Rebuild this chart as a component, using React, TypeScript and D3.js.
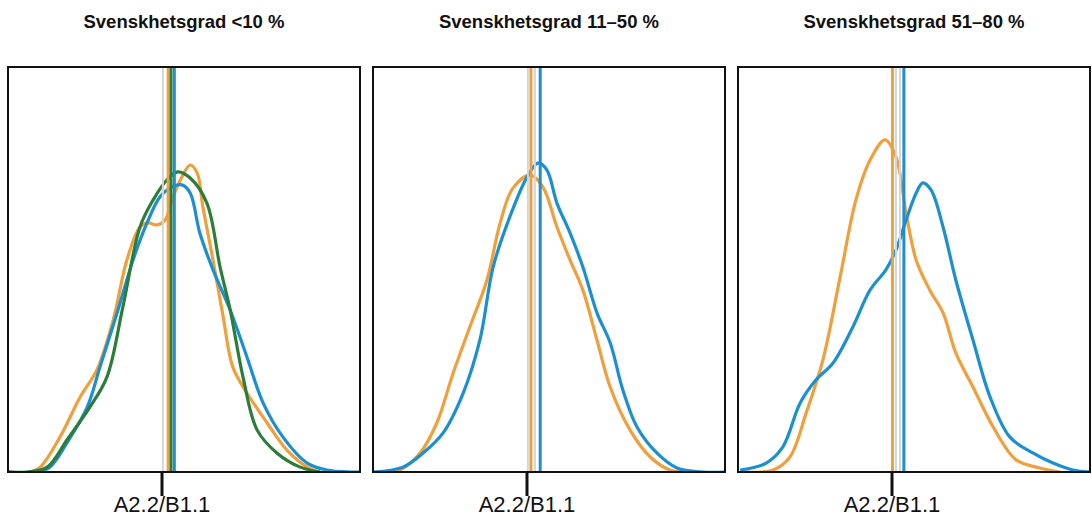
import React from "react";
import * as d3 from "d3";

type Pt = [number, number];

const titles = ["Svenskhetsgrad <10 %", "Svenskhetsgrad 11–50 %", "Svenskhetsgrad 51–80 %"];
const tickLabel = "A2.2/B1.1";
const tickValue = 0;

// Panel 1 densities [score, density]
const p1Orange: Pt[] = [[-3.5,0],[-3.0,0],[-2.77,0.012],[-2.32,0.086],[-1.86,0.185],[-1.48,0.252],[-1.11,0.375],[-0.8,0.523],[-0.5,0.605],[-0.32,0.615],[-0.11,0.61],[0.07,0.622],[0.25,0.679],[0.45,0.728],[0.64,0.758],[0.8,0.738],[0.93,0.654],[1.16,0.523],[1.39,0.383],[1.61,0.259],[1.93,0.195],[2.39,0.121],[2.84,0.054],[3.3,0.012],[3.59,0]];
const p1Blue: Pt[] = [[-3.5,0],[-2.84,0],[-2.55,0.012],[-2.16,0.072],[-1.7,0.16],[-1.41,0.259],[-1.02,0.393],[-0.66,0.523],[-0.34,0.615],[-0.05,0.679],[0.18,0.701],[0.45,0.709],[0.64,0.689],[0.86,0.59],[1.16,0.499],[1.55,0.4],[1.93,0.284],[2.3,0.17],[2.75,0.086],[3.3,0.022],[3.75,0.005],[4.27,0],[4.5,0]];
const p1Green: Pt[] = [[-3.5,0],[-3.07,0],[-2.61,0.012],[-2.16,0.079],[-1.64,0.16],[-1.25,0.235],[-0.89,0.407],[-0.5,0.605],[-0.2,0.672],[0.11,0.721],[0.36,0.741],[0.64,0.726],[1.02,0.664],[1.32,0.506],[1.55,0.4],[1.84,0.235],[2.16,0.104],[2.61,0.047],[3.14,0.012],[3.59,0]];

// Panel 2
const p2Orange: Pt[] = [[-3.41,0],[-2.89,0.005],[-2.43,0.047],[-2.05,0.121],[-1.68,0.244],[-1.3,0.358],[-0.91,0.474],[-0.61,0.615],[-0.32,0.701],[0.07,0.733],[0.36,0.704],[0.68,0.605],[0.98,0.523],[1.27,0.449],[1.59,0.326],[1.89,0.21],[2.34,0.104],[2.8,0.037],[3.25,0.005],[4.0,0]];
const p2Blue: Pt[] = [[-3.5,0],[-2.82,0.012],[-2.36,0.047],[-1.91,0.096],[-1.45,0.195],[-1.07,0.326],[-0.77,0.506],[-0.39,0.63],[0.0,0.728],[0.25,0.763],[0.45,0.746],[0.68,0.664],[0.98,0.59],[1.27,0.506],[1.59,0.393],[1.89,0.319],[2.18,0.202],[2.5,0.111],[2.95,0.047],[3.41,0.01],[4.0,0],[4.5,0]];

// Panel 3
const p3Orange: Pt[] = [[-3.45,0],[-2.7,0.005],[-2.32,0.037],[-1.95,0.146],[-1.57,0.277],[-1.18,0.481],[-0.82,0.672],[-0.5,0.77],[-0.16,0.82],[0.09,0.778],[0.32,0.64],[0.55,0.523],[0.86,0.449],[1.16,0.393],[1.45,0.294],[1.84,0.21],[2.3,0.111],[2.82,0.03],[3.36,0.01],[3.82,0]];
const p3Blue: Pt[] = [[-3.45,0.005],[-2.86,0.022],[-2.48,0.062],[-2.09,0.17],[-1.73,0.227],[-1.34,0.269],[-0.89,0.358],[-0.5,0.449],[-0.14,0.499],[0.09,0.548],[0.32,0.622],[0.55,0.689],[0.7,0.714],[0.89,0.696],[1.16,0.605],[1.45,0.474],[1.84,0.326],[2.23,0.185],[2.68,0.086],[3.2,0.047],[3.66,0.022],[4.11,0.005],[4.5,0]];

// Vertical reference lines (means)
const p1Means = { gray: [0.02], orange: 0.14, green: 0.205, blue: 0.28 };
const p2Means = { gray: [0.02, 0.18], orange: 0.09, green: null as number | null, blue: 0.3 };
const p3Means = { gray: [0.09, 0.18], orange: 0.01, green: null as number | null, blue: 0.27 };

const COLORS = { orange: "#EF9F3B", blue: "#1B8FD0", green: "#2C7C3A", gray: "#D6D6D6" };

const panels = [
  { title: titles[0], series: [{ c: COLORS.orange, d: p1Orange }, { c: COLORS.blue, d: p1Blue }, { c: COLORS.green, d: p1Green }], means: p1Means },
  { title: titles[1], series: [{ c: COLORS.orange, d: p2Orange }, { c: COLORS.blue, d: p2Blue }], means: p2Means },
  { title: titles[2], series: [{ c: COLORS.orange, d: p3Orange }, { c: COLORS.blue, d: p3Blue }], means: p3Means },
];

const W = 1092, H = 517;
const panelLeft0 = 8, panelW = 352, panelGap = 365;
const top = 67, bottom = 472;

export default function App() {
  const y = d3.scaleLinear().domain([0, 1]).range([bottom, top]);
  return (
    <svg width={W} height={H} style={{ position: "absolute", left: 0, top: 0, background: "#fff" }}
      fontFamily="'Liberation Sans', Arial, sans-serif">
      {panels.map((p, i) => {
        const left = panelLeft0 + i * panelGap;
        const x = d3.scaleLinear().domain([-3.5, 4.5]).range([left, left + panelW]);
        const line = d3.line<Pt>().x(d => x(d[0])).y(d => y(d[1])).curve(d3.curveCatmullRom.alpha(0.5));
        const clipId = `clip${i}`;
        const vlines: { v: number; c: string; w: number }[] = [];
        p.means.gray.forEach(g => vlines.push({ v: g, c: COLORS.gray, w: 2 }));
        vlines.push({ v: p.means.orange, c: COLORS.orange, w: 3 });
        if (p.means.green !== null && p.means.green !== undefined) vlines.push({ v: p.means.green, c: COLORS.green, w: 3 });
        vlines.push({ v: p.means.blue, c: COLORS.blue, w: 3 });
        return (
          <g key={i}>
            <defs>
              <clipPath id={clipId}>
                <rect x={left} y={top} width={panelW} height={bottom - top} />
              </clipPath>
            </defs>
            <text x={left + panelW / 2} y={28} textAnchor="middle" fontWeight="bold" fontSize={18.5} fill="#111">{p.title}</text>
            <g clipPath={`url(#${clipId})`}>
              {p.series.map((s, j) => (
                <path key={j} d={line(s.d) || ""} fill="none" stroke={s.c} strokeWidth={3.2} strokeLinejoin="round" />
              ))}
              {vlines.map((l, j) => (
                <line key={j} x1={x(l.v)} x2={x(l.v)} y1={top} y2={bottom} stroke={l.c} strokeWidth={l.w} />
              ))}
            </g>
            <rect x={left} y={top} width={panelW} height={bottom - top} fill="none" stroke="#111" strokeWidth={2} />
            <line x1={x(tickValue)} x2={x(tickValue)} y1={bottom} y2={bottom + 24} stroke="#111" strokeWidth={3} />
            <text x={x(tickValue)} y={512} textAnchor="middle" fontSize={22} fill="#111">{tickLabel}</text>
          </g>
        );
      })}
    </svg>
  );
}
